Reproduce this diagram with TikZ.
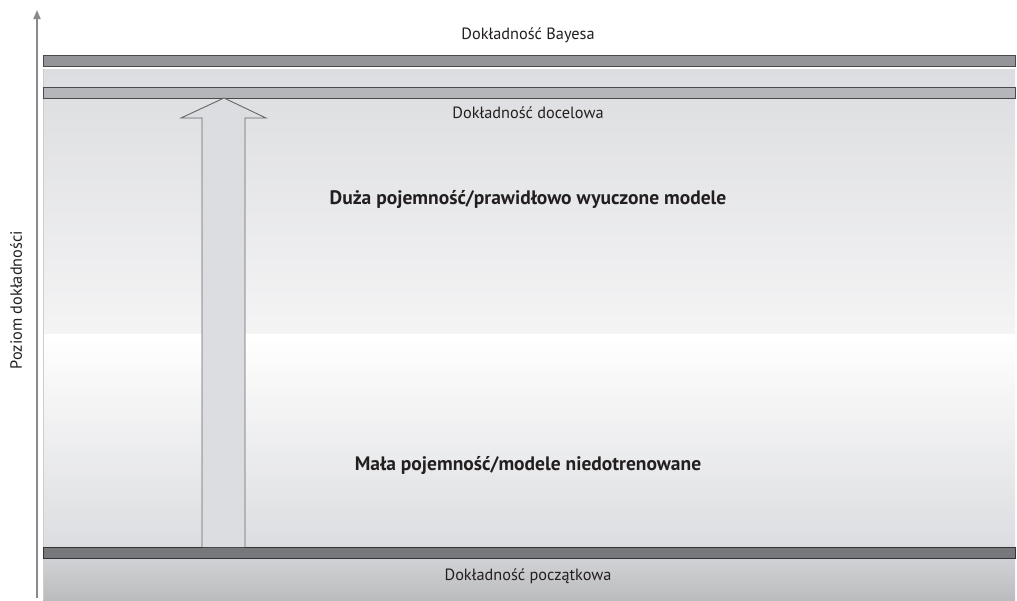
\documentclass[tikz,border=0pt]{standalone}
\usepackage{fontspec}
\setmainfont{PT Sans}
\usetikzlibrary{arrows.meta}
\definecolor{bandgray}{HTML}{DCDDE0}
\definecolor{bandlight}{HTML}{F4F4F5}
\definecolor{barA}{HTML}{949598}
\definecolor{barB}{HTML}{B5B6B9}
\definecolor{barC}{HTML}{77787B}
\definecolor{barline}{HTML}{4A4A4C}
\definecolor{axisgray}{HTML}{8A8A8C}
\definecolor{txt}{HTML}{231F20}
\tikzset{
  bar/.style={draw=barline, line width=1.2pt, rectangle, inner sep=0pt, anchor=north west,
    minimum width=972pt, minimum height=11pt},
  lbl/.style={text=txt, font=\fontsize{16.3}{18}\selectfont, inner sep=0pt},
  biglbl/.style={text=txt, font=\bfseries\fontsize{19.5}{22}\selectfont, inner sep=0pt},
}
\begin{document}
\begin{tikzpicture}[x=1pt,y=-1pt]
\useasboundingbox (0,0) rectangle (1017,600);
\fill[white] (0,0) rectangle (1017,600);
% bands
\shade[top color=bandgray, bottom color=bandlight] (43,69) rectangle (1015,333);
\shade[top color=white, bottom color=bandgray] (43,336) rectangle (1015,547);
\shade[top color=bandgray!95!black, bottom color=bandgray!85!black] (43,558) rectangle (1015,600);
\draw[gray!40, line width=1pt] (43,69) -- (43,600);
% bars
\node[bar, fill=barA] (bayes) at (43,55) {};
\node[bar, fill=barB] (target) at (43,87) {};
\node[bar, fill=barC, draw=barline!70!black] (init) at (43,547) {};
% block arrow
\coordinate (tip) at (224,98);
\filldraw[fill=bandgray, draw=gray!80!black, line width=0.9pt]
  (202,547) -- (202,118) -- (181,118) -- (tip) -- (266,118) -- (245,118) -- (245,547);
% axis
\coordinate (axbot) at (37,598);
\coordinate (axtop) at (37,10);
\draw[axisgray, line width=1.8pt, -{Triangle[length=9pt,width=7pt]}] (axbot) -- (axtop);
% labels
\node[lbl] (lbayes) at (528,35) {Dokładność Bayesa};
\node[lbl] (ltarget) at (528,113) {Dokładność docelowa};
\node[lbl] (linit) at (528,576) {Dokładność początkowa};
\node[biglbl] (lhigh) at (528,200) {Duża pojemność/prawidłowo wyuczone modele};
\node[biglbl] (llow) at (528,466) {Mała pojemność/modele niedotrenowane};
\node[lbl, rotate=90] (laxis) at (16,300) {Poziom dokładności};
\end{tikzpicture}
\end{document}
